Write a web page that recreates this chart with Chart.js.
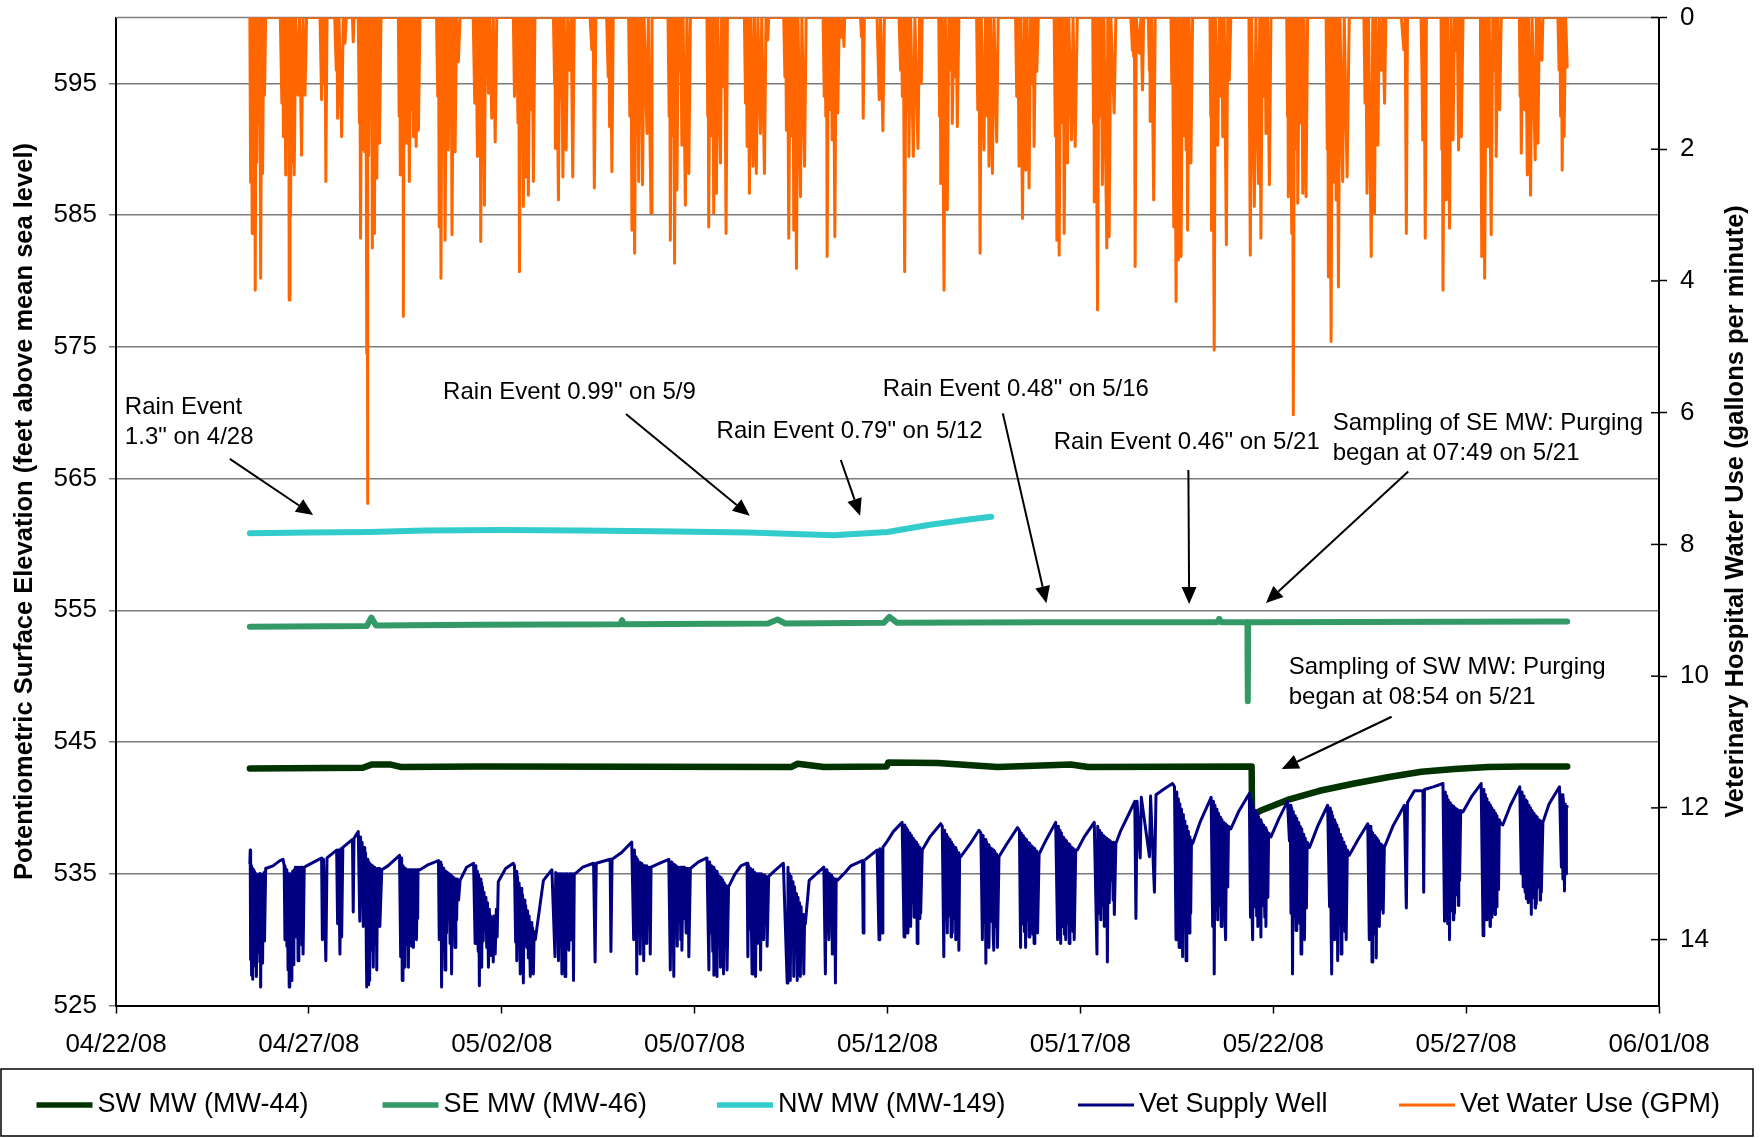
<!DOCTYPE html>
<html>
<head>
<meta charset="utf-8">
<title>Vet hospital water levels and use</title>
<script src="https://cdn.jsdelivr.net/npm/chart.js@4.4.1/dist/chart.umd.min.js"></script>
<style>
  html, body { margin: 0; padding: 0; background: #fff; }
  #wrap { width: 1763px; height: 1138px; }
</style>
</head>
<body>
<div id="wrap"><canvas id="levels-chart" width="1763" height="1138"></canvas></div>
<script>
// x values are days after 04/22/08 00:00
const dateTicks = [0, 5, 10, 15, 20, 25, 30, 35, 40];
const dateLabels = ['04/22/08', '04/27/08', '05/02/08', '05/07/08', '05/12/08', '05/17/08', '05/22/08', '05/27/08', '06/01/08'];
const elevTicks = [525, 535, 545, 555, 565, 575, 585, 595];
const useTicks = [0, 2, 4, 6, 8, 10, 12, 14];

const seriesNames = ['SW MW (MW-44)', 'SE MW (MW-46)', 'NW MW (MW-149)', 'Vet Supply Well', 'Vet Water Use (GPM)'];

// SW monitoring well (ft msl)
const swWell = [
  [3.47, 543.0], [6.40, 543.05], [6.64, 543.3], [7.10, 543.3], [7.40, 543.1], [9.44, 543.15], [17.50, 543.1],
  [17.67, 543.35], [18.35, 543.1], [19.98, 543.15], [20.02, 543.45], [21.30, 543.4], [22.85, 543.1], [24.75, 543.3],
  [25.20, 543.1], [29.44, 543.15], [29.45, 539.45], [29.68, 539.8], [30.37, 540.6], [31.20, 541.3], [32.10, 541.85],
  [33.00, 542.35], [33.84, 542.75], [34.70, 542.95], [35.57, 543.1], [36.50, 543.15], [37.62, 543.15],
];

// SE monitoring well (ft msl)
const seWell = [
  [3.47, 553.75], [6.50, 553.8], [6.62, 554.45], [6.74, 553.85], [9.40, 553.9], [13.08, 553.95], [13.12, 554.25],
  [13.16, 553.95], [16.90, 554.0], [17.15, 554.3], [17.35, 554.0], [19.90, 554.05], [20.05, 554.5], [20.25, 554.05],
  [24.10, 554.1], [28.55, 554.1], [28.60, 554.35], [28.65, 554.1], [29.33, 554.1], [29.34, 548.1], [29.35, 554.1],
  [37.62, 554.15],
];

// NW monitoring well (ft msl)
const nwWell = [
  [3.47, 560.85], [5.0, 560.9], [6.6, 560.95], [8.0, 561.05], [10.0, 561.1], [12.0, 561.05], [14.0, 561.0],
  [16.4, 560.9], [18.6, 560.7], [20.0, 560.95], [21.1, 561.5], [22.0, 561.85], [22.69, 562.1],
];

// Vet supply well (ft msl)
const supplyWell = [
  [3.47, 535.8], [3.48, 536.8], [3.49, 528.5], [3.50, 535.6], [3.51, 527.3], [3.52, 535.5], [3.53, 530.2], [3.54, 535.4],
  [3.55, 527.0], [3.56, 535.3], [3.57, 529.1], [3.58, 535.2], [3.59, 528.0], [3.61, 535.0], [3.62, 530.4], [3.63, 535.0],
  [3.64, 527.2], [3.66, 534.8], [3.67, 531.0], [3.68, 534.9], [3.70, 529.0], [3.72, 535.0], [3.73, 528.3], [3.74, 535.0],
  [3.75, 526.4], [3.77, 534.6], [3.78, 530.6], [3.79, 534.8], [3.80, 528.2], [3.82, 535.0], [3.83, 531.5], [3.84, 535.1],
  [3.85, 529.9], [3.88, 535.4],
  [4.07, 535.6], [4.25, 536.0], [4.33, 536.1],
  [4.36, 535.6], [4.38, 530.0], [4.39, 535.4], [4.40, 531.2], [4.41, 535.3], [4.43, 529.5], [4.44, 535.1], [4.46, 527.7],
  [4.47, 535.0], [4.49, 526.4], [4.50, 535.0], [4.51, 530.3], [4.52, 535.0], [4.55, 526.9], [4.56, 535.0], [4.57, 529.8],
  [4.58, 535.2], [4.61, 528.1], [4.62, 535.3], [4.64, 531.0], [4.65, 535.5], [4.68, 530.2], [4.70, 535.5], [4.72, 528.4],
  [4.74, 535.5], [4.78, 531.4], [4.80, 535.5], [4.82, 529.6], [4.83, 535.5], [4.85, 528.9], [4.88, 535.5], [4.94, 535.6],
  [5.20, 536.0], [5.33, 536.2], [5.35, 530.0], [5.38, 536.1], [5.44, 528.4], [5.47, 536.2], [5.72, 536.8], [5.745, 531.2],
  [5.77, 536.8], [5.805, 528.9], [5.83, 536.9], [5.85, 530.2], [5.88, 537.0], [6.13, 537.6], [6.15, 532.1], [6.17, 537.7],
  [6.28, 538.2],
  [6.32, 531.4], [6.34, 537.8], [6.36, 533.0], [6.38, 537.4], [6.41, 531.0], [6.43, 537.0], [6.45, 531.8], [6.47, 536.6],
  [6.49, 529.0], [6.50, 526.4], [6.51, 536.1], [6.53, 527.5], [6.54, 526.6], [6.55, 535.9], [6.56, 530.1], [6.57, 535.8],
  [6.58, 526.9], [6.60, 535.7], [6.61, 530.8], [6.62, 535.6], [6.64, 529.2], [6.65, 535.6], [6.67, 527.9], [6.69, 535.5],
  [6.70, 531.2], [6.71, 535.5], [6.73, 529.6], [6.74, 535.4], [6.76, 527.7], [6.78, 535.4], [6.80, 531.5], [6.82, 535.4],
  [6.84, 531.0], [6.89, 535.3],
  [7.05, 535.6], [7.20, 536.0], [7.35, 536.4],
  [7.38, 528.7], [7.39, 536.2], [7.40, 530.5], [7.41, 536.0], [7.42, 526.9], [7.44, 535.6], [7.45, 530.8], [7.46, 535.5],
  [7.49, 527.9], [7.50, 535.4], [7.51, 531.2], [7.53, 535.3], [7.55, 529.6], [7.56, 535.3], [7.58, 527.9], [7.60, 535.3],
  [7.62, 531.0], [7.63, 535.3], [7.65, 530.4], [7.66, 535.3], [7.67, 529.5], [7.69, 535.3], [7.71, 529.4], [7.73, 535.3],
  [7.75, 531.8], [7.76, 535.3], [7.79, 530.0], [7.81, 535.3], [7.82, 531.6], [7.83, 535.3], [7.88, 535.3],
  [8.10, 535.7], [8.36, 536.0],
  [8.38, 530.0], [8.40, 535.9], [8.42, 530.8], [8.43, 535.7], [8.44, 526.4], [8.46, 535.5], [8.48, 529.2], [8.50, 535.4],
  [8.53, 527.7], [8.55, 535.2], [8.57, 530.5], [8.59, 535.1], [8.62, 532.0], [8.64, 535.0], [8.66, 529.7], [8.68, 534.9],
  [8.70, 527.4], [8.72, 534.8], [8.74, 530.9], [8.76, 534.7], [8.79, 529.4], [8.81, 534.6], [8.83, 531.5], [8.85, 534.6],
  [8.88, 533.0], [8.92, 534.5],
  [9.09, 535.5], [9.27, 535.8],
  [9.31, 529.7], [9.33, 535.6], [9.35, 530.4], [9.37, 535.2], [9.39, 529.1], [9.40, 534.9], [9.42, 526.5], [9.44, 534.6],
  [9.46, 530.0], [9.47, 534.3], [9.48, 527.9], [9.50, 534.0], [9.52, 529.9], [9.54, 533.6], [9.57, 531.5], [9.59, 533.2],
  [9.61, 529.4], [9.63, 532.8], [9.655, 527.9], [9.68, 532.3], [9.70, 528.8], [9.72, 531.8], [9.74, 529.4], [9.76, 531.6],
  [9.78, 528.3], [9.80, 531.8], [9.83, 528.9], [9.86, 532.3], [9.88, 530.2], [9.91, 534.4],
  [10.10, 535.4], [10.30, 535.8],
  [10.33, 535.6], [10.36, 529.8], [10.37, 535.2], [10.39, 528.4], [10.41, 534.8], [10.43, 530.6], [10.45, 534.3],
  [10.48, 527.4], [10.50, 533.9], [10.52, 529.9], [10.54, 533.4], [10.56, 526.7], [10.58, 533.0], [10.60, 530.3],
  [10.62, 532.6], [10.65, 529.4], [10.67, 532.2], [10.69, 528.6], [10.71, 531.8], [10.74, 527.2], [10.76, 531.3],
  [10.78, 529.2], [10.80, 530.9], [10.82, 527.4], [10.84, 530.6], [10.87, 530.0],
  [11.08, 534.5], [11.30, 535.3],
  [11.38, 528.7], [11.40, 535.1], [11.42, 530.9], [11.44, 535.0], [11.47, 528.4], [11.49, 535.0], [11.51, 531.3],
  [11.53, 535.0], [11.56, 527.4], [11.58, 535.0], [11.60, 530.7], [11.62, 535.0], [11.64, 527.2], [11.66, 535.0],
  [11.68, 531.6], [11.70, 535.0], [11.74, 529.2], [11.76, 535.0], [11.77, 530.0], [11.79, 535.0], [11.82, 531.0],
  [11.84, 535.0], [11.86, 526.9], [11.88, 535.0], [11.90, 535.0],
  [12.10, 535.5], [12.38, 535.8], [12.42, 528.3], [12.45, 535.8], [12.81, 536.1], [12.83, 529.1], [12.86, 536.1],
  [13.10, 536.6], [13.37, 537.4],
  [13.42, 530.0], [13.44, 536.8], [13.46, 531.4], [13.48, 536.3], [13.50, 527.4], [13.52, 536.1], [13.55, 530.6],
  [13.57, 535.9], [13.59, 528.9], [13.61, 535.8], [13.63, 531.2], [13.65, 535.7], [13.68, 528.4], [13.70, 535.6],
  [13.72, 530.8], [13.74, 535.6], [13.76, 529.7], [13.78, 535.5], [13.81, 531.5], [13.83, 535.5], [13.85, 528.9],
  [13.87, 535.5], [13.89, 535.5],
  [14.10, 535.8], [14.33, 536.1],
  [14.37, 527.7], [14.39, 535.9], [14.41, 530.6], [14.43, 535.8], [14.46, 527.2], [14.48, 535.7], [14.50, 531.0],
  [14.52, 535.6], [14.55, 529.5], [14.57, 535.5], [14.60, 531.4], [14.62, 535.5], [14.64, 530.0], [14.66, 535.5],
  [14.67, 529.2], [14.70, 535.5], [14.72, 531.6], [14.74, 535.5], [14.78, 530.5], [14.80, 535.4], [14.82, 531.2],
  [14.83, 535.4], [14.85, 528.7], [14.89, 535.4],
  [15.10, 535.9], [15.32, 536.2],
  [15.37, 527.7], [15.39, 535.9], [15.42, 530.5], [15.44, 535.6], [15.47, 529.1], [15.48, 535.5], [15.50, 527.3],
  [15.52, 535.3], [15.55, 530.4], [15.56, 535.2], [15.58, 527.2], [15.60, 535.0], [15.63, 529.6], [15.65, 534.8],
  [15.67, 527.9], [15.69, 534.7], [15.72, 530.3], [15.73, 534.5], [15.75, 527.4], [15.77, 534.3], [15.80, 529.8],
  [15.82, 534.1], [15.84, 527.7], [15.88, 534.0],
  [16.05, 535.0], [16.20, 535.6], [16.36, 535.8],
  [16.38, 528.7], [16.40, 535.6], [16.43, 530.8], [16.45, 535.4], [16.49, 527.4], [16.51, 535.3], [16.54, 530.2],
  [16.56, 535.1], [16.58, 527.2], [16.60, 535.0], [16.63, 529.7], [16.65, 535.0], [16.68, 531.0], [16.69, 535.0],
  [16.71, 527.7], [16.73, 535.0], [16.76, 530.6], [16.77, 534.9], [16.79, 530.0], [16.81, 534.9], [16.84, 531.2],
  [16.86, 534.8], [16.88, 529.5], [16.92, 534.8],
  [17.10, 535.3], [17.30, 535.8],
  [17.40, 526.7], [17.42, 535.5], [17.44, 530.1], [17.46, 535.0], [17.48, 526.9], [17.50, 534.8], [17.53, 529.8],
  [17.55, 534.4], [17.57, 527.2], [17.59, 534.0], [17.62, 529.5], [17.64, 533.5], [17.66, 526.9], [17.68, 533.2],
  [17.71, 529.9], [17.72, 532.8], [17.74, 527.2], [17.76, 532.5], [17.79, 529.2], [17.81, 531.9], [17.83, 527.4],
  [17.85, 531.5], [17.87, 531.2],
  [17.97, 534.5], [18.35, 535.5],
  [18.39, 527.4], [18.41, 535.3], [18.43, 530.6], [18.45, 535.1], [18.48, 530.0], [18.50, 535.0], [18.53, 531.2],
  [18.55, 534.9], [18.57, 528.9], [18.59, 534.7], [18.62, 530.5], [18.63, 534.6], [18.65, 526.7], [18.67, 534.6],
  [18.70, 534.5],
  [18.90, 535.1], [19.05, 535.6], [19.35, 536.0], [19.37, 530.5], [19.39, 536.0], [19.73, 536.8], [19.78, 530.0],
  [19.80, 536.9], [19.86, 530.5], [19.88, 537.0], [20.00, 537.5], [20.15, 538.2], [20.38, 538.9],
  [20.43, 530.2], [20.45, 538.7], [20.47, 531.8], [20.49, 538.5], [20.51, 530.5], [20.53, 538.3], [20.56, 532.4],
  [20.58, 538.1], [20.60, 531.0], [20.62, 537.9], [20.65, 532.8], [20.67, 537.7], [20.69, 531.7], [20.71, 537.5],
  [20.74, 533.0], [20.75, 537.4], [20.77, 529.7], [20.79, 537.2], [20.82, 531.6], [20.84, 537.0], [20.86, 532.0],
  [20.90, 536.8],
  [21.10, 537.8], [21.38, 538.8],
  [21.42, 538.6], [21.46, 528.7], [21.48, 538.3], [21.51, 531.5], [21.53, 538.0], [21.55, 530.5], [21.57, 537.8],
  [21.60, 531.8], [21.62, 537.6], [21.65, 530.2], [21.66, 537.4], [21.68, 530.5], [21.70, 537.2], [21.73, 531.6],
  [21.75, 537.0], [21.77, 530.0], [21.79, 536.8], [21.82, 531.3], [21.83, 536.6], [21.85, 529.2], [21.87, 536.4],
  [21.90, 536.3],
  [22.15, 537.3], [22.37, 538.3],
  [22.42, 538.1], [22.46, 530.0], [22.48, 537.9], [22.51, 531.3], [22.53, 537.6], [22.55, 528.2], [22.57, 537.4],
  [22.60, 530.8], [22.62, 537.2], [22.63, 529.4], [22.66, 537.0], [22.69, 531.4], [22.71, 536.9], [22.74, 530.3],
  [22.75, 536.8], [22.76, 529.2], [22.78, 536.7], [22.81, 531.0], [22.83, 536.5], [22.85, 529.4], [22.89, 536.3],
  [23.10, 537.3], [23.37, 538.5],
  [23.42, 538.3], [23.45, 529.4], [23.47, 538.1], [23.50, 531.2], [23.52, 537.9], [23.55, 530.6], [23.56, 537.7],
  [23.58, 529.4], [23.60, 537.6], [23.63, 531.5], [23.65, 537.4], [23.67, 530.2], [23.69, 537.3], [23.72, 531.0],
  [23.74, 537.1], [23.77, 530.4], [23.78, 537.0], [23.80, 529.7], [23.82, 536.9], [23.85, 531.4], [23.87, 536.7],
  [23.89, 530.5], [23.93, 536.5],
  [24.10, 537.5], [24.36, 538.9],
  [24.41, 530.0], [24.43, 538.6], [24.46, 531.4], [24.47, 538.3], [24.49, 529.7], [24.51, 538.1], [24.54, 531.0],
  [24.56, 537.8], [24.59, 530.4], [24.60, 537.6], [24.62, 530.0], [24.64, 537.5], [24.67, 531.2], [24.69, 537.3],
  [24.71, 529.7], [24.73, 537.2], [24.76, 531.0], [24.78, 537.0], [24.81, 530.6], [24.82, 536.9], [24.84, 530.0],
  [24.88, 536.8], [24.92, 536.8],
  [25.10, 537.8], [25.36, 538.9],
  [25.43, 528.9], [25.45, 538.6], [25.48, 532.0], [25.50, 538.3], [25.53, 531.5], [25.55, 538.1], [25.58, 532.6],
  [25.60, 537.9], [25.62, 531.0], [25.64, 537.8], [25.67, 532.4], [25.68, 537.7], [25.70, 528.3], [25.72, 537.6],
  [25.75, 532.8], [25.77, 537.5], [25.80, 534.5], [25.82, 537.4], [25.85, 533.0], [25.86, 537.4], [25.88, 531.9],
  [25.92, 537.3],
  [26.05, 538.3], [26.25, 539.5], [26.41, 540.5], [26.44, 531.6], [26.47, 540.5], [26.55, 536.2], [26.58, 540.8],
  [26.79, 536.3], [26.82, 540.9], [26.92, 533.6], [26.96, 541.0],
  [27.15, 541.4], [27.39, 541.85],
  [27.44, 541.6], [27.48, 530.0], [27.50, 541.2], [27.52, 531.6], [27.54, 540.7], [27.56, 529.4], [27.58, 540.3],
  [27.61, 531.0], [27.62, 539.9], [27.65, 528.7], [27.67, 539.5], [27.70, 531.3], [27.71, 539.0], [27.74, 528.4],
  [27.76, 538.6], [27.78, 530.9], [27.80, 538.2], [27.82, 530.5], [27.84, 537.8], [27.86, 532.0], [27.88, 537.5],
  [27.91, 537.3],
  [28.10, 538.9], [28.39, 540.8],
  [28.43, 531.0], [28.45, 540.5], [28.47, 527.4], [28.49, 540.2], [28.52, 532.2], [28.54, 539.9], [28.56, 531.5],
  [28.58, 539.6], [28.61, 532.6], [28.63, 539.3], [28.65, 531.0], [28.67, 539.1], [28.70, 532.3], [28.72, 538.9],
  [28.75, 531.4], [28.76, 538.8], [28.77, 530.0], [28.79, 538.7], [28.82, 534.0], [28.84, 538.6], [28.90, 538.4],
  [29.10, 539.7], [29.38, 541.1],
  [29.41, 531.7], [29.43, 540.6], [29.45, 532.4], [29.46, 540.3], [29.47, 530.0], [29.49, 540.0], [29.52, 532.5],
  [29.54, 539.8], [29.57, 531.8], [29.58, 539.5], [29.60, 531.0], [29.62, 539.3], [29.65, 532.1], [29.66, 539.1],
  [29.68, 530.2], [29.70, 538.9], [29.73, 532.6], [29.75, 538.7], [29.78, 531.7], [29.79, 538.5], [29.81, 531.0],
  [29.83, 538.3], [29.86, 533.2], [29.88, 538.1], [29.94, 537.8],
  [30.15, 539.2], [30.37, 540.5],
  [30.42, 537.5], [30.44, 540.2], [30.46, 532.0], [30.48, 540.0], [30.50, 527.4], [30.52, 539.7], [30.55, 531.8],
  [30.57, 539.4], [30.59, 530.7], [30.61, 539.2], [30.64, 532.0], [30.66, 538.9], [30.69, 531.2], [30.70, 538.6],
  [30.72, 528.9], [30.74, 538.4], [30.77, 531.6], [30.79, 538.0], [30.81, 530.0], [30.83, 537.7], [30.86, 532.4],
  [30.88, 537.4], [30.94, 537.0],
  [31.15, 538.6], [31.41, 540.2],
  [31.46, 532.5], [31.48, 540.0], [31.50, 531.0], [31.51, 539.7], [31.52, 527.4], [31.54, 539.4], [31.57, 531.4],
  [31.58, 539.1], [31.59, 530.0], [31.61, 538.9], [31.64, 531.8], [31.65, 538.7], [31.67, 528.4], [31.69, 538.4],
  [31.72, 531.2], [31.74, 538.0], [31.76, 528.9], [31.78, 537.7], [31.81, 531.5], [31.83, 537.4], [31.86, 530.6],
  [31.87, 537.1], [31.89, 530.0], [31.92, 536.8], [31.97, 536.4],
  [32.20, 537.6], [32.45, 538.8],
  [32.49, 530.0], [32.51, 538.6], [32.53, 531.6], [32.54, 538.3], [32.56, 528.3], [32.58, 538.1], [32.61, 531.2],
  [32.63, 537.9], [32.65, 530.4], [32.66, 537.8], [32.67, 528.6], [32.69, 537.7], [32.72, 531.5], [32.73, 537.5],
  [32.75, 531.0], [32.77, 537.3], [32.80, 532.3], [32.82, 537.2], [32.85, 532.0], [32.88, 537.0],
  [33.10, 538.6], [33.40, 540.2], [33.45, 532.4], [33.48, 540.4], [33.66, 541.3], [33.88, 541.3], [33.90, 533.6],
  [33.92, 541.4], [34.15, 541.6], [34.40, 541.85],
  [34.44, 531.4], [34.46, 541.2], [34.48, 532.6], [34.50, 540.9], [34.52, 531.2], [34.54, 540.6], [34.57, 530.0],
  [34.59, 540.4], [34.62, 532.2], [34.64, 540.2], [34.67, 531.5], [34.68, 540.1], [34.70, 532.0], [34.72, 540.0],
  [34.75, 533.4], [34.77, 539.9], [34.80, 532.6], [34.81, 539.8], [34.83, 534.5], [34.86, 539.8], [34.92, 539.7],
  [35.15, 540.9], [35.39, 541.85],
  [35.44, 530.3], [35.46, 541.4], [35.49, 532.2], [35.50, 541.0], [35.52, 531.5], [35.54, 540.7], [35.57, 532.4],
  [35.59, 540.4], [35.62, 531.0], [35.63, 540.2], [35.65, 531.7], [35.67, 540.0], [35.70, 532.8], [35.72, 539.8],
  [35.75, 531.9], [35.76, 539.6], [35.78, 532.5], [35.80, 539.4], [35.84, 533.8], [35.86, 539.1], [35.90, 538.8],
  [35.95, 538.7],
  [36.15, 540.2], [36.39, 541.6],
  [36.43, 535.0], [36.45, 541.2], [36.48, 534.0], [36.50, 540.9], [36.53, 533.6], [36.55, 540.6], [36.56, 533.1],
  [36.58, 540.5], [36.61, 532.8], [36.63, 540.2], [36.66, 533.5], [36.67, 540.0], [36.69, 531.9], [36.71, 539.8],
  [36.74, 533.2], [36.76, 539.6], [36.79, 532.4], [36.80, 539.4], [36.82, 532.7], [36.84, 539.3], [36.87, 534.0],
  [36.89, 539.1], [36.92, 533.0], [36.93, 539.0], [36.95, 533.6], [36.99, 538.9],
  [37.15, 540.3], [37.42, 541.6],
  [37.47, 535.5], [37.49, 541.0], [37.51, 534.6], [37.52, 540.7], [37.55, 533.7], [37.57, 540.3], [37.59, 535.0],
  [37.60, 540.1], [37.62, 540.1],
];

// Vet water use (gallons per minute)
const waterUse = [
  [3.47, 0], [3.49, 2.5], [3.51, 0], [3.53, 3.28], [3.55, 0], [3.57, 1.8], [3.59, 0], [3.61, 4.14], [3.63, 0], [3.65, 2.2],
  [3.68, 0], [3.70, 1.6], [3.73, 0], [3.75, 3.96], [3.78, 0], [3.80, 2.37], [3.83, 0], [3.85, 1.18], [3.88, 0],
  [4.26, 0], [4.30, 1.3], [4.32, 0], [4.34, 1.81], [4.37, 0], [4.40, 2.39], [4.43, 0], [4.46, 1.6], [4.48, 0], [4.49, 4.29],
  [4.51, 0], [4.525, 3.02], [4.55, 0], [4.58, 2.21], [4.60, 0], [4.62, 2.39], [4.66, 0], [4.72, 1.18], [4.76, 0],
  [4.81, 2.09], [4.85, 0], [4.90, 1.18], [4.94, 0],
  [5.29, 0], [5.33, 1.25], [5.36, 0], [5.40, 1.0], [5.42, 0], [5.44, 2.49], [5.47, 0],
  [5.67, 0], [5.71, 0.8], [5.73, 0], [5.745, 1.53], [5.78, 0], [5.85, 1.81], [5.89, 0], [5.935, 0.39], [5.97, 0],
  [6.13, 0], [6.15, 0.37], [6.17, 0],
  [6.28, 0], [6.31, 1.6], [6.32, 0], [6.34, 3.35], [6.37, 0], [6.40, 2.0], [6.43, 0], [6.45, 2.04], [6.48, 0], [6.50, 5.1],
  [6.51, 0], [6.52, 7.38], [6.53, 0], [6.55, 2.1], [6.58, 0], [6.61, 1.4], [6.63, 0], [6.645, 3.5], [6.67, 0], [6.70, 3.28],
  [6.72, 0], [6.76, 2.44], [6.79, 0], [6.83, 1.91], [6.87, 0],
  [7.32, 0], [7.34, 1.5], [7.355, 0], [7.37, 2.39], [7.39, 0], [7.42, 1.6], [7.44, 0], [7.45, 4.54], [7.47, 0], [7.50, 1.3],
  [7.52, 0], [7.535, 1.91], [7.57, 0], [7.605, 2.49], [7.64, 0], [7.68, 1.4], [7.695, 0], [7.71, 1.81], [7.74, 0],
  [7.78, 1.96], [7.81, 0], [7.84, 1.71], [7.88, 0],
  [8.31, 0], [8.34, 1.2], [8.36, 0], [8.38, 3.18], [8.40, 0], [8.425, 3.96], [8.45, 0], [8.48, 2.0], [8.50, 0], [8.53, 3.38],
  [8.57, 0], [8.615, 2.01], [8.65, 0], [8.68, 1.2], [8.69, 0], [8.71, 3.30], [8.75, 0], [8.79, 2.04], [8.83, 0],
  [8.875, 0.67], [8.92, 0],
  [9.26, 0], [9.30, 1.3], [9.33, 0], [9.37, 2.11], [9.40, 0], [9.43, 1.0], [9.44, 0], [9.455, 3.40], [9.49, 0], [9.52, 1.2],
  [9.53, 0], [9.55, 2.85], [9.58, 0], [9.62, 0.5], [9.63, 0], [9.655, 1.15], [9.69, 0], [9.74, 1.53], [9.78, 0],
  [9.83, 1.89], [9.87, 0],
  [10.30, 0], [10.33, 1.2], [10.35, 0], [10.37, 0.95], [10.39, 0], [10.42, 1.6], [10.44, 0], [10.46, 3.86], [10.49, 0],
  [10.52, 1.5], [10.54, 0], [10.56, 2.87], [10.59, 0], [10.62, 2.42], [10.65, 0], [10.69, 2.70], [10.73, 0], [10.77, 1.4],
  [10.79, 0], [10.82, 2.49], [10.86, 0],
  [11.34, 0], [11.37, 1.0], [11.38, 0], [11.39, 1.99], [11.42, 0], [11.47, 2.77], [11.50, 0], [11.53, 1.2], [11.55, 0],
  [11.585, 2.42], [11.62, 0], [11.67, 2.01], [11.71, 0], [11.76, 0.8], [11.80, 0], [11.84, 2.42], [11.88, 0],
  [12.29, 0], [12.335, 0.49], [12.37, 0], [12.40, 2.59], [12.44, 0],
  [12.72, 0], [12.76, 0.9], [12.78, 0], [12.795, 1.66], [12.82, 0], [12.855, 2.34], [12.89, 0],
  [13.29, 0], [13.32, 1.5], [13.35, 0], [13.375, 3.23], [13.40, 0], [13.445, 3.58], [13.48, 0], [13.51, 1.2], [13.52, 0],
  [13.55, 2.49], [13.58, 0], [13.61, 1.3], [13.62, 0], [13.65, 2.54], [13.69, 0], [13.765, 1.76], [13.80, 0],
  [13.87, 2.97], [13.895, 0],
  [14.31, 0], [14.34, 1.5], [14.355, 0], [14.37, 3.38], [14.40, 0], [14.44, 1.8], [14.46, 0], [14.48, 3.73], [14.51, 0],
  [14.54, 2.62], [14.58, 0], [14.62, 0.8], [14.64, 0], [14.67, 1.94], [14.70, 0], [14.76, 2.85], [14.80, 0], [14.85, 2.37],
  [14.89, 0],
  [15.32, 0], [15.34, 1.5], [15.35, 0], [15.365, 3.18], [15.40, 0], [15.45, 1.8], [15.47, 0], [15.495, 2.97], [15.53, 0],
  [15.565, 2.67], [15.60, 0], [15.67, 2.21], [15.70, 0], [15.74, 1.05], [15.78, 0], [15.815, 3.28], [15.85, 0],
  [16.29, 0], [16.32, 1.3], [16.34, 0], [16.36, 1.96], [16.39, 0], [16.42, 2.67], [16.46, 0], [16.515, 2.26], [16.55, 0],
  [16.60, 2.37], [16.64, 0], [16.705, 1.76], [16.74, 0], [16.81, 2.37], [16.85, 0], [16.895, 0.34], [16.92, 0],
  [17.31, 0], [17.34, 0.9], [17.36, 0], [17.38, 1.71], [17.41, 0], [17.44, 3.35], [17.48, 0], [17.53, 1.8], [17.55, 0],
  [17.57, 3.23], [17.60, 0], [17.64, 3.81], [17.68, 0], [17.745, 2.72], [17.78, 0], [17.85, 2.26], [17.89, 0],
  [18.33, 0], [18.36, 1.2], [18.38, 0], [18.40, 1.5], [18.42, 0], [18.435, 3.63], [18.47, 0], [18.52, 1.4], [18.54, 0],
  [18.565, 1.86], [18.60, 0], [18.635, 3.33], [18.67, 0], [18.71, 1.45], [18.75, 0], [18.80, 0.3], [18.84, 0],
  [18.87, 0.44], [18.89, 0],
  [19.30, 0], [19.33, 0.3], [19.35, 0], [19.37, 1.53], [19.40, 0],
  [19.73, 0], [19.785, 1.25], [19.82, 0], [19.88, 1.72], [19.92, 0],
  [20.30, 0], [20.34, 0.8], [20.36, 0], [20.385, 1.20], [20.41, 0], [20.445, 3.86], [20.48, 0], [20.52, 1.4], [20.54, 0],
  [20.555, 2.11], [20.60, 0], [20.67, 2.11], [20.71, 0], [20.79, 1.99], [20.83, 0], [20.875, 1.0], [20.90, 0],
  [21.33, 0], [21.35, 1.5], [21.365, 0], [21.38, 2.52], [21.42, 0], [21.465, 4.14], [21.50, 0], [21.55, 2.92], [21.59, 0],
  [21.64, 0.8], [21.66, 0], [21.68, 1.61], [21.72, 0], [21.76, 0.9], [21.78, 0], [21.81, 1.66], [21.85, 0],
  [22.31, 0], [22.34, 1.4], [22.37, 0], [22.40, 3.58], [22.43, 0], [22.50, 2.01], [22.54, 0], [22.59, 1.5], [22.61, 0],
  [22.63, 2.26], [22.67, 0], [22.72, 2.37], [22.76, 0], [22.83, 1.89], [22.87, 0],
  [23.32, 0], [23.35, 1.2], [23.38, 0], [23.41, 2.26], [23.45, 0], [23.50, 3.05], [23.54, 0], [23.585, 2.32], [23.62, 0],
  [23.67, 2.59], [23.71, 0], [23.76, 1.0], [23.78, 0], [23.80, 1.96], [23.84, 0], [23.87, 0.82], [23.91, 0],
  [24.32, 0], [24.35, 1.8], [24.37, 0], [24.39, 3.38], [24.42, 0], [24.45, 3.61], [24.49, 0], [24.54, 1.6], [24.56, 0],
  [24.58, 3.28], [24.62, 0], [24.665, 2.21], [24.70, 0], [24.77, 1.86], [24.81, 0], [24.865, 1.96], [24.92, 0],
  [25.32, 0], [25.34, 1.6], [25.35, 0], [25.36, 2.80], [25.40, 0], [25.445, 4.44], [25.48, 0], [25.52, 1.5], [25.54, 0],
  [25.57, 2.54], [25.61, 0], [25.685, 3.5], [25.71, 0], [25.745, 3.33], [25.79, 0], [25.875, 1.45], [25.92, 0],
  [26.31, 0], [26.35, 0.5], [26.365, 0], [26.38, 0.59], [26.40, 0], [26.42, 3.78], [26.45, 0], [26.525, 0.54], [26.57, 0],
  [26.61, 1.10], [26.64, 0],
  [26.76, 0], [26.79, 0.8], [26.80, 0], [26.81, 1.58], [26.85, 0], [26.90, 2.77], [26.94, 0],
  [27.35, 0], [27.37, 1.0], [27.39, 0], [27.42, 3.18], [27.45, 0], [27.48, 4.31], [27.51, 0], [27.54, 3.68], [27.57, 0],
  [27.61, 3.63], [27.65, 0], [27.70, 1.8], [27.72, 0], [27.74, 2.01], [27.76, 0], [27.78, 3.23], [27.82, 0],
  [27.865, 2.21], [27.91, 0],
  [28.36, 0], [28.38, 1.5], [28.39, 0], [28.40, 3.23], [28.43, 0], [28.47, 5.05], [28.50, 0], [28.56, 1.94], [28.60, 0],
  [28.65, 1.2], [28.67, 0], [28.69, 1.81], [28.73, 0], [28.785, 3.45], [28.82, 0], [28.86, 0.95], [28.90, 0],
  [29.37, 0], [29.405, 3.61], [29.44, 0], [29.51, 2.87], [29.55, 0], [29.615, 2.52], [29.65, 0], [29.68, 3.35], [29.72, 0],
  [29.77, 1.2], [29.79, 0], [29.81, 1.76], [29.85, 0], [29.90, 2.54], [29.94, 0],
  [30.35, 0], [30.37, 1.5], [30.38, 0], [30.39, 2.72], [30.43, 0], [30.48, 3.28], [30.50, 0], [30.52, 6.03], [30.55, 0],
  [30.60, 2.0], [30.62, 0], [30.635, 2.82], [30.68, 0], [30.72, 1.6], [30.74, 0], [30.765, 2.67], [30.80, 0], [30.85, 2.72],
  [30.89, 0],
  [31.37, 0], [31.40, 2.0], [31.41, 0], [31.43, 3.94], [31.46, 0], [31.50, 4.92], [31.53, 0], [31.58, 2.5], [31.60, 0],
  [31.63, 2.77], [31.66, 0], [31.69, 4.09], [31.73, 0], [31.80, 2.49], [31.84, 0], [31.915, 2.42], [31.97, 0],
  [32.35, 0], [32.38, 1.3], [32.40, 0], [32.43, 2.67], [32.47, 0], [32.54, 3.63], [32.58, 0], [32.625, 2.97], [32.66, 0],
  [32.71, 1.94], [32.75, 0], [32.80, 0.8], [32.84, 0], [32.885, 1.30], [32.92, 0],
  [33.32, 0], [33.385, 0.49], [33.42, 0], [33.45, 3.28], [33.48, 0],
  [33.83, 0], [33.86, 1.0], [33.87, 0], [33.88, 1.86], [33.91, 0], [33.94, 3.35], [33.97, 0],
  [34.35, 0], [34.37, 2.0], [34.38, 0], [34.40, 4.14], [34.44, 0], [34.485, 2.77], [34.52, 0], [34.57, 3.20], [34.61, 0],
  [34.66, 1.86], [34.70, 0], [34.75, 0.5], [34.77, 0], [34.805, 2.01], [34.84, 0], [34.875, 1.81], [34.92, 0],
  [35.37, 0], [35.39, 2.0], [35.40, 0], [35.41, 3.63], [35.45, 0], [35.48, 3.96], [35.52, 0], [35.565, 1.96], [35.60, 0],
  [35.65, 3.30], [35.69, 0], [35.74, 0.8], [35.76, 0], [35.78, 2.11], [35.82, 0], [35.87, 1.40], [35.91, 0],
  [36.38, 0], [36.40, 1.2], [36.41, 0], [36.43, 2.06], [36.47, 0], [36.52, 1.4], [36.55, 0], [36.585, 2.39], [36.62, 0],
  [36.67, 2.70], [36.71, 0], [36.79, 2.16], [36.82, 0], [36.86, 1.91], [36.90, 0], [36.965, 0.65], [36.99, 0],
  [37.38, 0], [37.41, 0.8], [37.43, 0], [37.45, 1.5], [37.47, 0], [37.49, 2.32], [37.52, 0], [37.54, 1.81], [37.58, 0],
  [37.62, 0.75],
];

// Call-outs, anchored in (day, ft msl)
const notes = [
  { lines: ['Rain Event', '1.3" on 4/28'], at: [0.23, 570.43], arrow: [[2.95, 566.5], [5.11, 562.23]] },
  { lines: ['Rain Event 0.99" on 5/9'], at: [8.48, 571.54], arrow: [[13.22, 569.9], [16.43, 562.18]] },
  { lines: ['Rain Event 0.79" on 5/12'], at: [15.57, 568.61], arrow: [[18.79, 566.41], [19.29, 562.18]] },
  { lines: ['Rain Event 0.48" on 5/16'], at: [19.88, 571.8], arrow: [[22.99, 569.95], [24.12, 555.53]] },
  { lines: ['Rain Event 0.46" on 5/21'], at: [24.31, 567.78], arrow: [[27.80, 565.65], [27.82, 555.48]] },
  { lines: ['Sampling of SE MW: Purging', 'began at 07:49 on 5/21'], at: [31.54, 569.18], arrow: [[33.50, 565.54], [29.81, 555.55]] },
  { lines: ['Sampling of SW MW: Purging', 'began at 08:54 on 5/21'], at: [30.40, 550.69], arrow: [[33.07, 546.92], [30.22, 542.95]] },
];

const FONT = '"Liberation Sans", Arial, Helvetica, sans-serif';
Chart.defaults.font.family = FONT;
Chart.defaults.color = '#000';

const toPoints = (pairs) => pairs.map(([x, y]) => ({ x, y }));

function drawArrow(ctx, x1, y1, x2, y2) {
    const ang = Math.atan2(y2 - y1, x2 - x1);
    const len = 17;
    const half = 7.5;
    const bx = x2 - len * Math.cos(ang);
    const by = y2 - len * Math.sin(ang);
    ctx.lineWidth = 2;
    ctx.beginPath();
    ctx.moveTo(x1, y1);
    ctx.lineTo(bx, by);
    ctx.stroke();
    ctx.beginPath();
    ctx.moveTo(x2, y2);
    ctx.lineTo(bx + half * Math.sin(ang), by - half * Math.cos(ang));
    ctx.lineTo(bx - half * Math.sin(ang), by + half * Math.cos(ang));
    ctx.closePath();
    ctx.fill();
}

// Vertical scales reserve half a label above the top tick; the plot here runs right up to it.
const noEdgePadding = (scale) => {
    scale.paddingTop = 0;
    scale.paddingBottom = 0;
};

// Top frame line and the inner half of the right axis ticks.
const framePlugin = {
    id: 'frame',
    beforeDatasetsDraw(chart) {
        const { ctx, chartArea: area } = chart;
        ctx.save();
        ctx.strokeStyle = '#808080';
        ctx.lineWidth = 1.5;
        ctx.beginPath();
        ctx.moveTo(area.left, area.top);
        ctx.lineTo(area.right, area.top);
        ctx.stroke();
        ctx.strokeStyle = '#000';
        chart.scales.y2.ticks.forEach((t) => {
            const py = chart.scales.y2.getPixelForValue(t.value);
            ctx.beginPath();
            ctx.moveTo(area.right - 8, py);
            ctx.lineTo(area.right, py);
            ctx.stroke();
        });
        ctx.restore();
    },
};

const notePlugin = {
    id: 'notes',
    afterDatasetsDraw(chart) {
        const { ctx, scales: { x, y } } = chart;
        ctx.save();
        ctx.font = `24px ${FONT}`;
        ctx.fillStyle = '#000';
        ctx.strokeStyle = '#000';
        ctx.textBaseline = 'middle';
        ctx.textAlign = 'left';
        notes.forEach((note) => {
            const tx = x.getPixelForValue(note.at[0]);
            const ty = y.getPixelForValue(note.at[1]);
            note.lines.forEach((line, i) => ctx.fillText(line, tx, ty + i * 30));
            const [from, to] = note.arrow;
            drawArrow(ctx, x.getPixelForValue(from[0]), y.getPixelForValue(from[1]),
                x.getPixelForValue(to[0]), y.getPixelForValue(to[1]));
        });
        ctx.restore();
    },
};

// Right-hand title reads bottom to top, and the boxed legend row under the axis.
const sidePlugin = {
    id: 'sideBits',
    afterDraw(chart) {
        const { ctx, chartArea: area } = chart;
        ctx.save();
        ctx.translate(1736, (area.top + area.bottom) / 2);
        ctx.rotate(-Math.PI / 2);
        ctx.font = `bold 25.5px ${FONT}`;
        ctx.fillStyle = '#000';
        ctx.textAlign = 'center';
        ctx.textBaseline = 'middle';
        ctx.fillText('Veterinary Hospital Water Use (gallons per minute)', 0, 0);
        ctx.restore();

        const itemX = [36.5, 382.5, 717, 1078, 1399];
        const ly = 1105;
        ctx.save();
        ctx.strokeStyle = '#000';
        ctx.lineWidth = 1.5;
        ctx.strokeRect(1, 1069, 1752, 67);
        ctx.font = `27px ${FONT}`;
        ctx.fillStyle = '#000';
        ctx.textBaseline = 'middle';
        chart.data.datasets.forEach((ds, i) => {
            ctx.strokeStyle = ds.borderColor;
            ctx.lineWidth = Math.min(ds.borderWidth, 5.5);
            ctx.lineCap = 'butt';
            ctx.beginPath();
            ctx.moveTo(itemX[i], ly);
            ctx.lineTo(itemX[i] + 56, ly);
            ctx.stroke();
            ctx.fillText(ds.label, itemX[i] + 61, ly);
        });
        ctx.restore();
    },
};

const lineStyle = {
    pointRadius: 0,
    tension: 0,
    fill: false,
    borderJoinStyle: 'round',
    borderCapStyle: 'round',
};

const ctx = document.getElementById('levels-chart').getContext('2d');
new Chart(ctx, {
    type: 'line',
    data: {
        datasets: [
            { ...lineStyle, label: seriesNames[0], data: toPoints(swWell), borderColor: '#003300', borderWidth: 6.5, yAxisID: 'y', order: 5 },
            { ...lineStyle, label: seriesNames[1], data: toPoints(seWell), borderColor: '#339966', borderWidth: 6, yAxisID: 'y', order: 4 },
            { ...lineStyle, label: seriesNames[2], data: toPoints(nwWell), borderColor: '#33CCCC', borderWidth: 6, yAxisID: 'y', order: 3 },
            { ...lineStyle, label: seriesNames[3], data: toPoints(supplyWell), borderColor: '#000080', borderWidth: 3, yAxisID: 'y', order: 2 },
            { ...lineStyle, label: seriesNames[4], data: toPoints(waterUse), borderColor: '#FF6600', borderWidth: 3, yAxisID: 'y2', order: 1 },
        ],
    },
    options: {
        responsive: false,
        devicePixelRatio: 1,
        animation: false,
        layout: { padding: { top: 17.5, left: 0, right: 0, bottom: 0 } },
        plugins: {
            legend: { display: false },
            tooltip: { enabled: false },
        },
        scales: {
            x: {
                type: 'linear',
                min: 0,
                max: 40,
                afterBuildTicks: (scale) => { scale.ticks = dateTicks.map((v) => ({ value: v })); },
                afterFit: (scale) => { scale.height = 132.5; },
                ticks: {
                    callback: (value, index) => dateLabels[index],
                    font: { size: 26 },
                    color: '#000',
                    padding: 16,
                    maxRotation: 0,
                    autoSkip: false,
                },
                grid: { drawOnChartArea: false, tickLength: 8, tickColor: '#000', tickWidth: 1.5 },
                border: { color: '#000', width: 2 },
            },
            y: {
                position: 'left',
                min: 525,
                max: 600,
                afterBuildTicks: (scale) => { scale.ticks = elevTicks.map((v) => ({ value: v })); },
                afterFit: (scale) => { scale.width = 116; noEdgePadding(scale); },
                ticks: { font: { size: 26 }, color: '#000', padding: 12 },
                grid: {
                    color: (c) => (c.tick && c.tick.value === 525 ? 'rgba(0,0,0,0)' : '#7a7a7a'),
                    tickColor: '#7a7a7a',
                    lineWidth: 1.5,
                    tickLength: 7,
                },
                border: { color: '#000', width: 2 },
                title: {
                    display: true,
                    text: 'Potentiometric Surface Elevation (feet above mean sea level)',
                    font: { size: 25.5, weight: 'bold' },
                    color: '#000',
                    padding: { top: 10, bottom: 0 },
                },
            },
            y2: {
                position: 'right',
                min: 0,
                max: 15,
                reverse: true,
                afterBuildTicks: (scale) => { scale.ticks = useTicks.map((v) => ({ value: v })); },
                afterFit: (scale) => { scale.width = 104; noEdgePadding(scale); },
                ticks: { font: { size: 26 }, color: '#000', padding: 13 },
                grid: { drawOnChartArea: false, tickLength: 8, tickColor: '#000', tickWidth: 1.5 },
                border: { color: '#000', width: 2 },
            },
        },
    },
    plugins: [framePlugin, notePlugin, sidePlugin],
});
</script>
</body>
</html>
